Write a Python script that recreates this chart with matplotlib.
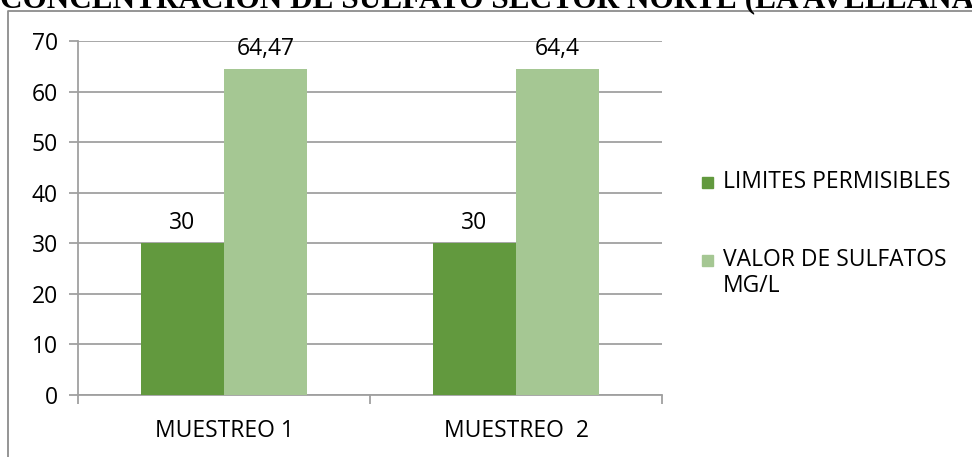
import matplotlib.pyplot as plt
import numpy as np
from matplotlib.patches import Rectangle
from matplotlib.lines import Line2D

categories = ['MUESTREO 1', 'MUESTREO  2']
series_names = ['LIMITES PERMISIBLES', 'VALOR DE SULFATOS\nMG/L']
limites = [30, 30]
sulfatos = [64.47, 64.4]
colors = ['#62993e', '#a5c793']
title = 'CONCENTRACION DE SULFATO SECTOR NORTE (LA AVELLANA)'

plt.rcParams['font.family'] = ['Open Sans', 'DejaVu Sans']
FS = 16.5

W, H = 972, 457
fig = plt.figure(figsize=(W / 100, H / 100), dpi=100)

def fx(px):
    return px / W

def fy(py):
    return 1 - py / H

ax = fig.add_axes([fx(78), fy(395), fx(662) - fx(78), fy(41) - fy(395)])

x = np.arange(len(categories))
bw = 0.284
b1 = ax.bar(x - bw / 2, limites, bw, color=colors[0], zorder=3)
b2 = ax.bar(x + bw / 2, sulfatos, bw, color=colors[1], zorder=3)

def fmt(v):
    return ('%g' % v).replace('.', ',')

for bars, vals in ((b1, limites), (b2, sulfatos)):
    ax.bar_label(bars, labels=[fmt(v) for v in vals], padding=6, fontsize=FS)

ax.set_xlim(-0.5, len(categories) - 0.5)
ax.set_ylim(0, 70)
ax.set_yticks(range(0, 71, 10))
ax.yaxis.grid(True, color='#a0a0a0', linewidth=1.3, zorder=0)
ax.set_axisbelow(True)

ax.set_xticks(x)
ax.set_xticklabels(categories, fontsize=FS)
ax.set_xticks(np.arange(-0.5, len(categories), 1), minor=True)
ax.tick_params(axis='x', which='major', length=0, pad=17)
ax.tick_params(axis='x', which='minor', length=6.5, color='#a0a0a0', width=1.3)
ax.tick_params(axis='y', length=6.5, color='#a0a0a0', width=1.3, labelsize=FS, pad=8)

for s in ['top', 'right']:
    ax.spines[s].set_visible(False)
for s in ['left', 'bottom']:
    ax.spines[s].set_color('#a0a0a0')
    ax.spines[s].set_linewidth(1.3)

# legend drawn by hand so the square sits beside the first line
leg_y = [182, 260]
for i, name in enumerate(series_names):
    fig.add_artist(Rectangle((fx(702), fy(leg_y[i] + 6)), fx(11), fy(0) - fy(11),
                             transform=fig.transFigure, color=colors[i]))
    fig.text(fx(723), fy(leg_y[i] - 12) if '\n' in name else fy(leg_y[i]), name,
             fontsize=FS, va='top' if '\n' in name else 'center',
             ha='left', linespacing=1.1)

# chart frame
fig.add_artist(Line2D([fx(8), fx(8), fx(972)], [0, fy(10.5), fy(10.5)],
                      transform=fig.transFigure, color='#8c8c8c', linewidth=1.3))

fig.text(0.0, fy(7), title, fontsize=22.5, fontweight='bold',
         family='Liberation Serif', va='baseline', ha='left')

fig.savefig('out.png', dpi=100)
